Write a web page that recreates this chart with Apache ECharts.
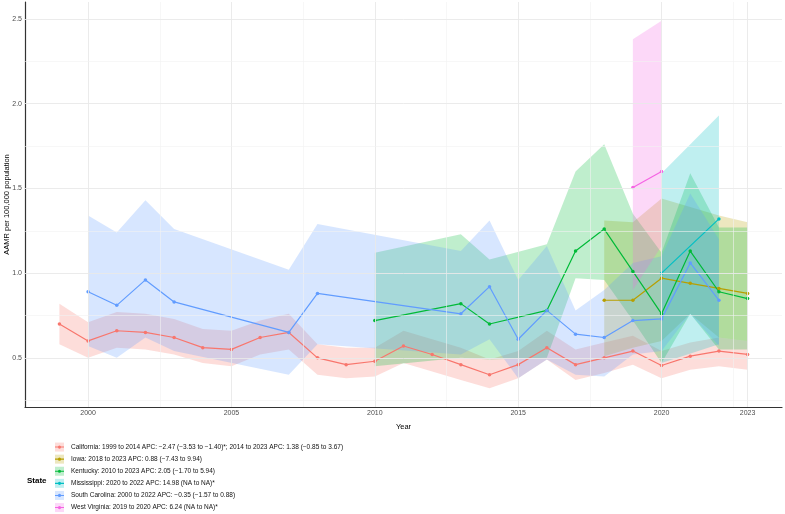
<!DOCTYPE html>
<html>
<head>
<meta charset="utf-8">
<script src="https://cdn.jsdelivr.net/npm/echarts@6/dist/echarts.min.js"></script>
<style>
  html, body { margin: 0; padding: 0; background: #fff; }
  #main { width: 785px; height: 514px; }
</style>
</head>
<body>
<div id="main"></div>
<script>
// state labels (legend)
const stateNames = [
    "California: 1999 to 2014 APC: \u22122.47 (\u22123.53 to \u22121.40)*; 2014 to 2023 APC: 1.38 (\u22120.85 to 3.67)",
    "Iowa: 2018 to 2023 APC: 0.88 (\u22127.43 to 9.94)",
    "Kentucky: 2010 to 2023 APC: 2.05 (\u22121.70 to 5.94)",
    "Mississippi: 2020 to 2022 APC: 14.98 (NA to NA)*",
    "South Carolina: 2000 to 2022 APC: \u22120.35 (\u22121.57 to 0.88)",
    "West Virginia: 2019 to 2020 APC: 6.24 (NA to NA)*"
];
const stateColors = ["#F8766D", "#B79F00", "#00BA38", "#00BFC4", "#619CFF", "#F564E3"];

// California
const caYears = [1999, 2000, 2001, 2002, 2003, 2004, 2005, 2006, 2007, 2008, 2009, 2010, 2011, 2012, 2013, 2014, 2015, 2016, 2017, 2018, 2019, 2020, 2021, 2022, 2023];
const caRate = [0.70, 0.60, 0.66, 0.65, 0.62, 0.56, 0.55, 0.62, 0.65, 0.50, 0.46, 0.48, 0.57, 0.52, 0.46, 0.40, 0.46, 0.56, 0.46, 0.50, 0.54, 0.455, 0.51, 0.54, 0.52];
const caLow = [0.58, 0.50, 0.56, 0.55, 0.52, 0.47, 0.45, 0.52, 0.55, 0.40, 0.38, 0.39, 0.47, 0.42, 0.37, 0.32, 0.38, 0.49, 0.37, 0.41, 0.46, 0.38, 0.43, 0.45, 0.43];
const caHigh = [0.82, 0.71, 0.77, 0.76, 0.73, 0.67, 0.66, 0.72, 0.76, 0.58, 0.56, 0.56, 0.66, 0.61, 0.56, 0.49, 0.54, 0.66, 0.55, 0.59, 0.63, 0.54, 0.59, 0.62, 0.60];

// Iowa
const iaYears = [2018, 2019, 2020, 2021, 2022, 2023];
const iaRate = [0.84, 0.84, 0.97, 0.94, 0.91, 0.88];
const iaLow = [0.51, 0.56, 0.60, 0.76, 0.62, 0.60];
const iaHigh = [1.31, 1.30, 1.44, 1.39, 1.34, 1.30];

// Kentucky
const kyYears = [2010, 2013, 2014, 2016, 2017, 2018, 2019, 2020, 2021, 2022, 2023];
const kyRate = [0.72, 0.82, 0.70, 0.78, 1.13, 1.26, 1.01, 0.76, 1.13, 0.89, 0.85];
const kyLow = [0.45, 0.50, 0.49, 0.50, 0.97, 0.96, 0.72, 0.47, 0.76, 0.55, 0.55];
const kyHigh = [1.12, 1.23, 1.08, 1.17, 1.60, 1.76, 1.35, 1.12, 1.59, 1.27, 1.27];

// Mississippi
const msYears = [2020, 2022];
const msRate = [1.00, 1.32];
const msLow = [0.47, 0.58];
const msHigh = [1.59, 1.93];

// South Carolina
const scYears = [2000, 2001, 2002, 2003, 2007, 2008, 2013, 2014, 2015, 2016, 2017, 2018, 2019, 2020, 2021, 2022];
const scRate = [0.89, 0.81, 0.96, 0.83, 0.65, 0.88, 0.76, 0.92, 0.61, 0.78, 0.64, 0.62, 0.72, 0.73, 1.06, 0.84];
const scLow = [0.57, 0.50, 0.62, 0.54, 0.40, 0.58, 0.52, 0.61, 0.38, 0.49, 0.40, 0.39, 0.52, 0.54, 0.76, 0.57];
const scHigh = [1.34, 1.24, 1.43, 1.26, 1.02, 1.29, 1.13, 1.31, 0.96, 1.16, 0.78, 0.90, 1.06, 1.10, 1.47, 1.20];

// West Virginia
const wvYears = [2019, 2020];
const wvRate = [1.505, 1.60];
const wvLow = [0.90, 1.16];
const wvHigh = [2.38, 2.49];

// axis breaks
const xLabels = [2000, 2005, 2010, 2015, 2020, 2023];
const xMinor = [2002.5, 2007.5, 2012.5, 2017.5, 2022.5];
const yLabels = [0.5, 1.0, 1.5, 2.0, 2.5];
const yMinor = [0.25, 0.75, 1.25, 1.75, 2.25];

const states = [
    { years: caYears, rate: caRate, low: caLow, high: caHigh },
    { years: iaYears, rate: iaRate, low: iaLow, high: iaHigh },
    { years: kyYears, rate: kyRate, low: kyLow, high: kyHigh },
    { years: msYears, rate: msRate, low: msLow, high: msHigh },
    { years: scYears, rate: scRate, low: scLow, high: scHigh },
    { years: wvYears, rate: wvRate, low: wvLow, high: wvHigh }
];

const font = "'Liberation Sans', Arial, sans-serif";
const legendLeft = 55;
const legendTop = 441;
const legendRow = 12.1;
// legend key: thin line with a dot
const keyIcon = "path://M0,4.45H9V5.55H0Z M6.1,5A1.6,1.6,0,1,1,2.9,5A1.6,1.6,0,1,1,6.1,5Z";

let series = [];

// gridlines
const majorLine = { color: "#e9e9e9", width: 0.9, type: "solid" };
const minorLine = { color: "#f1f1f1", width: 0.6, type: "solid" };
series.push({
    type: "line",
    name: "grid",
    data: [],
    z: 1,
    silent: true,
    markLine: {
        silent: true,
        symbol: "none",
        animation: false,
        label: { show: false },
        data: [
            ...xLabels.map(v => ({ xAxis: v, lineStyle: majorLine })),
            ...xMinor.map(v => ({ xAxis: v, lineStyle: minorLine })),
            ...yLabels.map(v => ({ yAxis: v, lineStyle: majorLine })),
            ...yMinor.map(v => ({ yAxis: v, lineStyle: minorLine }))
        ]
    }
});

// confidence bands (one polygon per state)
states.forEach((s, k) => {
    series.push({
        type: "custom",
        name: "band" + k,
        data: s.years.map((y, i) => [y, s.low[i], s.high[i]]),
        encode: { x: 0, y: [1, 2] },
        silent: true,
        z: 2,
        renderItem: (params, api) => {
            if (params.dataIndex !== 0) return;
            let top = [];
            let bottom = [];
            s.years.forEach((y, i) => {
                top.push(api.coord([y, s.high[i]]));
                bottom.push(api.coord([y, s.low[i]]));
            });
            return {
                type: "polygon",
                shape: { points: top.concat(bottom.reverse()) },
                style: { fill: stateColors[k], opacity: 0.25 }
            };
        }
    });
});

// rate lines
states.forEach((s, k) => {
    series.push({
        type: "line",
        name: stateNames[k],
        data: s.years.map((y, i) => [y, s.rate[i]]),
        symbol: "circle",
        symbolSize: 3.5,
        color: stateColors[k],
        lineStyle: { width: 1.2, color: stateColors[k] },
        itemStyle: { color: stateColors[k] },
        z: 3
    });
});

const chart = echarts.init(document.getElementById("main"));

const option = {
    animation: false,
    backgroundColor: "#fff",
    textStyle: { fontFamily: font },
    title: {
        text: "State",
        left: 27,
        top: 477,
        padding: 0,
        textStyle: { fontSize: 8, fontWeight: "bold", color: "#000", fontFamily: font }
    },
    grid: { left: 25, right: 3, top: 2, bottom: 107, outerBoundsMode: "none" },
    legend: {
        orient: "vertical",
        left: legendLeft,
        top: legendTop,
        height: 73,
        padding: 0,
        itemWidth: 9,
        itemHeight: 8,
        itemGap: 0,
        data: stateNames.map(n => ({ name: n, icon: keyIcon })),
        textStyle: { fontSize: 6.5, lineHeight: legendRow, color: "#111", fontFamily: font, padding: [0, 0, 0, 2] }
    },
    graphic: stateColors.map((c, k) => ({
        type: "rect",
        left: legendLeft,
        top: legendTop + k * legendRow + legendRow / 2 - 4.5,
        z: 0,
        shape: { width: 9, height: 9 },
        style: { fill: c, opacity: 0.25 }
    })),
    xAxis: {
        type: "value",
        min: 1997.8,
        max: 2024.2,
        name: "Year",
        nameLocation: "middle",
        nameGap: 16,
        nameMoveOverlap: false,
        nameTextStyle: { fontSize: 7.5, color: "#000", fontFamily: font },
        axisLine: { show: true, lineStyle: { color: "#333", width: 1.2 } },
        axisTick: { show: false },
        splitLine: { show: false },
        axisLabel: {
            customValues: xLabels,
            formatter: v => String(v),
            fontSize: 7,
            color: "#4d4d4d",
            margin: 3,
            fontFamily: font
        }
    },
    yAxis: {
        type: "value",
        min: 0.21,
        max: 2.6,
        name: "AAMR per 100,000 population",
        nameLocation: "middle",
        nameGap: 14.5,
        nameMoveOverlap: false,
        nameTextStyle: { fontSize: 7.5, color: "#000", fontFamily: font },
        axisLine: { show: true, lineStyle: { color: "#333", width: 1.2 } },
        axisTick: { show: false },
        splitLine: { show: false },
        axisLabel: {
            customValues: yLabels,
            formatter: v => v.toFixed(1),
            fontSize: 7,
            color: "#4d4d4d",
            margin: 3,
            fontFamily: font
        }
    },
    series: series
};

chart.setOption(option);
</script>
</body>
</html>
